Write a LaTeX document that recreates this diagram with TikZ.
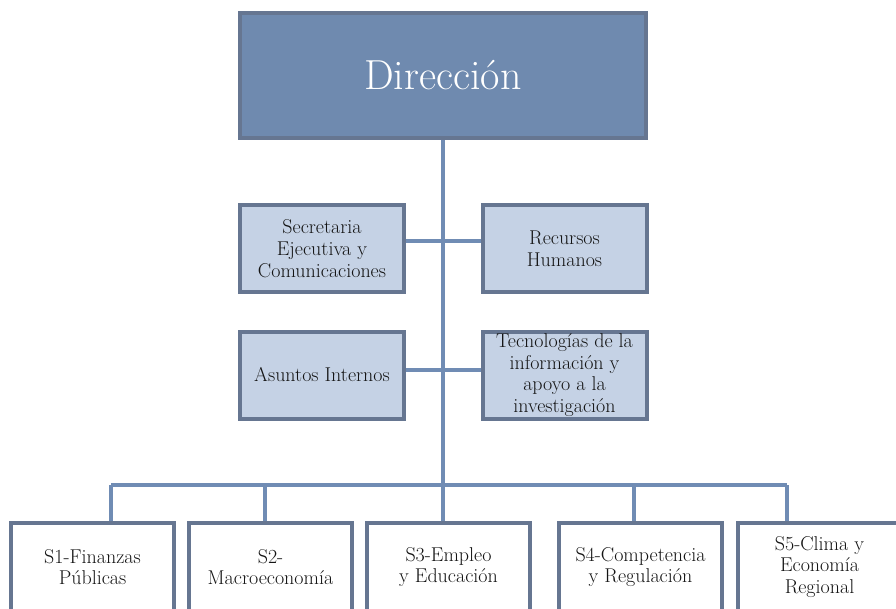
\documentclass[tikz,border=0pt]{standalone}
\usetikzlibrary{backgrounds}
\definecolor{topfill}{RGB}{111,138,175}
\definecolor{boxfill}{RGB}{197,210,229}
\definecolor{boxline}{RGB}{102,118,145}
\definecolor{linkline}{RGB}{112,140,180}
\definecolor{txt}{RGB}{20,20,20}
\begin{document}
\begin{tikzpicture}[x=1pt,y=-1pt,
    unitbox/.style={draw=boxline, line width=4pt, fill=boxfill, align=center, inner sep=1pt,
      minimum width=164pt, minimum height=87pt, text=txt, font=\fontsize{20}{21.8}\selectfont},
    areabox/.style={unitbox, fill=white, minimum width=163pt, minimum height=88pt},
    link/.style={draw=linkline, line width=4pt}]
  \useasboundingbox (0,0) rectangle (896,609);
  \clip (0,0) rectangle (896,609);
  % direccion
  \node[unitbox, fill=topfill, text=white, minimum width=406pt, minimum height=125pt,
    font=\fontsize{42}{46}\selectfont] (dir) at (443,75.5) {Dirección};
  % staff units
  \node[unitbox] (sec) at (322,248.5) {Secretaria\\Ejecutiva y\\Comunicaciones};
  \node[unitbox] (rrhh) at (564.5,248.5) {Recursos\\Humanos};
  \node[unitbox] (asun) at (322,375) {Asuntos Internos};
  \node[unitbox] (tec) at (564.5,375) {Tecnologías de la\\información y\\apoyo a la\\investigación};
  % areas
  \node[areabox] (s1) at (92.5,567) {S1-Finanzas\\Públicas};
  \node[areabox] (s2) at (270.5,567) {S2-\\Macroeconomía};
  \node[areabox] (s3) at (448.5,567) {S3-Empleo\\y Educación};
  \node[areabox] (s4) at (640.5,567) {S4-Competencia\\y Regulación};
  \node[areabox] (s5) at (819.5,567) {S5-Clima y\\Economía\\Regional};
  \coordinate (b1) at (111,485);
  \coordinate (b2) at (265,485);
  \coordinate (b3) at (443,485);
  \coordinate (b4) at (634,485);
  \coordinate (b5) at (787,485);
  \begin{scope}[on background layer]
    \draw[link] (dir.south) -- (b3);
    \draw[link] ([yshift=7.5pt]sec.east) -- ([yshift=7.5pt]rrhh.west);
    \draw[link] ([yshift=5pt]asun.east) -- ([yshift=5pt]tec.west);
    \draw[link] (b1) -- (b5);
    \draw[link] (b1) -- (b1 |- s1.north);
    \draw[link] (b2) -- (b2 |- s2.north);
    \draw[link] (b3) -- (b3 |- s3.north);
    \draw[link] (b4) -- (b4 |- s4.north);
    \draw[link] (b5) -- (b5 |- s5.north);
  \end{scope}
\end{tikzpicture}
\end{document}
